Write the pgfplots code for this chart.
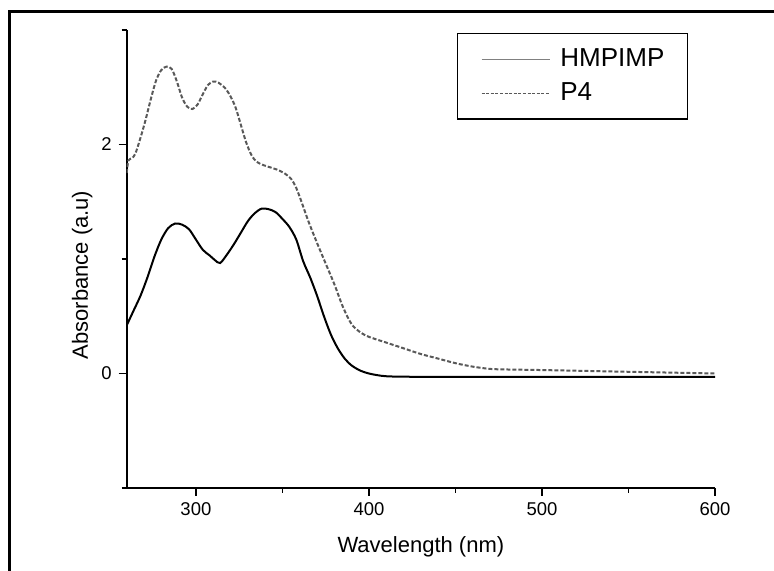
\documentclass[border=0pt]{standalone}
\usepackage{fontspec}
\setmainfont{Liberation Sans}
\usepackage{pgfplots}
\pgfplotsset{compat=1.18}
\begin{document}
\begin{tikzpicture}
\useasboundingbox (0,0) rectangle (387pt,285.5pt);
\draw[line width=1.5pt] (4.5pt,0) -- (4.5pt,279.5pt) -- (387pt,279.5pt);
\begin{axis}[
  at={(63.35pt,41.5pt)}, anchor=south west,
  scale only axis, width=294.15pt, height=229pt,
  xmin=260, xmax=600, ymin=-1, ymax=3,
  axis x line*=bottom, axis y line*=left,
  axis line style={line width=0.9pt, black},
  tick align=outside,
  xtick={300,400,500,600}, minor xtick={350,450,550},
  ytick={0,2}, minor ytick={-1,1,3},
  major tick length=4pt, minor tick length=2.5pt,
  every tick/.style={line width=0.9pt, black},
  /pgf/number format/assume math mode=true,
  ticklabel style={font=\fontsize{9.25}{11}\selectfont},
  xlabel={Wavelength (nm)}, ylabel={Absorbance (a.u)},
  label style={font=\fontsize{11}{13}\selectfont},
  xlabel style={at={(axis description cs:0.5,-0.1413)}, anchor=base},
  ylabel style={at={(axis description cs:-0.0658,0.465)}, anchor=base},
  legend cell align=left,
  legend image code/.code={\draw[#1] (0pt,0pt) -- (34pt,0pt);},
  legend style={at={(0.954,0.993)}, anchor=north east, draw=black, line width=0.6pt,
    font=\fontsize{13}{15}\selectfont, inner xsep=11.5pt, inner ysep=7.5pt,
    nodes={inner sep=0pt}, /tikz/column sep=5pt, /tikz/row sep=6.7pt},
]
\addlegendimage{black!50, line width=0.7pt}
\addlegendentry{HMPIMP}
\addlegendimage{black!65, line width=0.8pt, dash pattern=on 1.5pt off 0.8pt}
\addlegendentry{P4}
\addplot[black, line width=1pt, smooth, tension=0.5, forget plot] coordinates {
(260,0.42) (264,0.55) (268,0.68) (272,0.84) (276,1.02) (280,1.17) (284,1.27)
(288,1.31) (292,1.30) (296,1.26) (300,1.17) (304,1.08) (308,1.03) (311,0.99)
(314,0.965) (318,1.04) (322,1.13) (326,1.23) (330,1.33) (334,1.40) (338,1.44)
(342,1.435) (346,1.41) (350,1.35) (354,1.28) (358,1.17) (362,0.98) (366,0.84)
(370,0.68) (374,0.50) (378,0.34) (382,0.22) (386,0.13) (390,0.07) (395,0.025)
(400,0.0) (405,-0.015) (410,-0.024) (420,-0.028) (450,-0.03) (500,-0.03)
(550,-0.03) (600,-0.03)
};
\addplot[black!65, line width=1pt, dash pattern=on 2pt off 1pt, smooth, tension=0.5, forget plot] coordinates {
(260,1.75) (261,1.86) (263,1.88) (265,1.92) (268,2.06) (271,2.22) (274,2.40)
(277,2.56) (280,2.65) (283,2.68) (286,2.66) (289,2.55) (292,2.41) (295,2.33)
(298,2.31) (301,2.35) (304,2.44) (307,2.52) (310,2.55) (313,2.54) (317,2.49)
(320,2.42) (323,2.32) (326,2.17) (329,2.02) (332,1.91) (335,1.85) (339,1.82)
(343,1.80) (347,1.78) (351,1.75) (355,1.70) (358,1.62) (361,1.50) (365,1.33)
(370,1.14) (375,0.96) (380,0.78) (385,0.58) (390,0.43) (395,0.36) (400,0.32)
(410,0.27) (420,0.22) (430,0.17) (440,0.13) (450,0.09) (460,0.06) (470,0.04)
(480,0.035) (500,0.03) (550,0.015) (600,0.0)
};
\end{axis}
\end{tikzpicture}
\end{document}
